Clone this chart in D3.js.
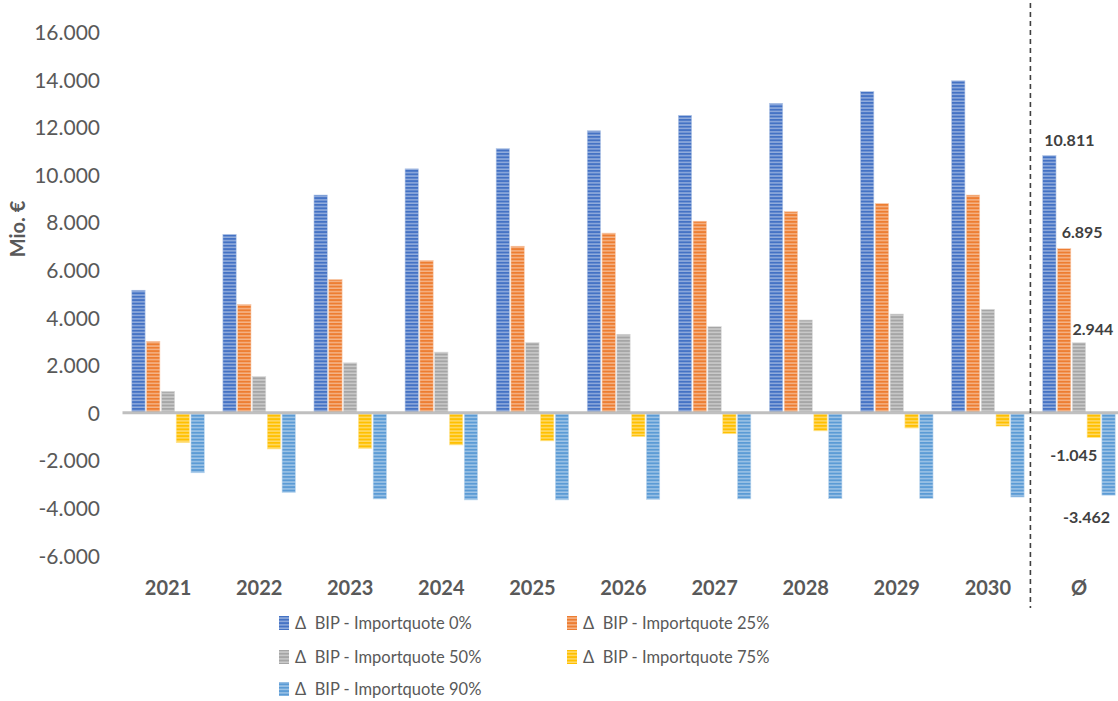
<!DOCTYPE html>
<html>
<head>
<meta charset="utf-8">
<script src="https://cdn.jsdelivr.net/npm/d3@7"></script>
<style>
  html, body { margin: 0; padding: 0; background: #fff; }
  svg { display: block; }
  text { font-family: Lato, "Open Sans", sans-serif; }
</style>
</head>
<body>
<svg id="chart" width="1118" height="701"></svg>
<script>
// ---- data ----
const categories = ["2021","2022","2023","2024","2025","2026","2027","2028","2029","2030","Ø"];
const seriesNames = [
  "Δ  BIP - Importquote 0%",
  "Δ  BIP - Importquote 25%",
  "Δ  BIP - Importquote 50%",
  "Δ  BIP - Importquote 75%",
  "Δ  BIP - Importquote 90%"
];
const imp0  = [5150, 7500, 9150, 10250, 11100, 11850, 12500, 13000, 13500, 13950, 10811];
const imp25 = [3000, 4550, 5600, 6400, 7000, 7550, 8050, 8450, 8800, 9150, 6895];
const imp50 = [900, 1525, 2100, 2550, 2950, 3300, 3620, 3900, 4150, 4350, 2944];
const imp75 = [-1250, -1520, -1500, -1350, -1180, -1000, -880, -760, -640, -560, -1045];
const imp90 = [-2520, -3350, -3620, -3660, -3660, -3640, -3620, -3610, -3600, -3540, -3462];
const yTicks = [-6000,-4000,-2000,0,2000,4000,6000,8000,10000,12000,14000,16000];
const colors = ["#4472C4", "#ED7D31", "#A5A5A5", "#FFC000", "#5B9BD5"];
const allSeries = [imp0, imp25, imp50, imp75, imp90];

// ---- setup ----
const svg = d3.select("#chart");
const fmt = v => d3.format(",")(v).replace(/,/g, ".").replace(/\u2212/g, "-");

const x0 = d3.scaleBand().domain(categories).range([122.5, 1124.5]).padding(0);
const groupW = 72.5;
const x1 = d3.scaleBand().domain(d3.range(5)).range([0, groupW]).paddingInner(0.1);
const y = d3.scaleLinear().domain([-6000, 16000]).range([555.6, 32]);

// patterns
const defs = svg.append("defs");
colors.forEach((c, i) => {
  const light = d3.interpolateRgb(c, "#ffffff")(0.42);
  const p = defs.append("pattern").attr("id", "pat" + i)
    .attr("patternUnits", "userSpaceOnUse").attr("width", 6).attr("height", 3.4);
  p.append("rect").attr("width", 6).attr("height", 3.4).attr("fill", light);
  p.append("rect").attr("width", 6).attr("height", 1.9).attr("fill", c);
});

// y axis labels
const yAxis = d3.axisLeft(y).tickValues(yTicks).tickSize(0).tickPadding(0).tickFormat(fmt);
const gy = svg.append("g").attr("transform", "translate(100,0)").call(yAxis);
gy.select(".domain").remove();
gy.selectAll("text").attr("fill", "#595959").style("font-size", "21px")
  .style("font-family", "Lato, sans-serif").attr("dy", "0.36em");

// y title
svg.append("text").attr("transform", "translate(25,229) rotate(-90)")
  .attr("text-anchor", "middle").attr("fill", "#595959")
  .style("font-size", "20px").style("font-weight", "bold").text("Mio. €");

// bars
const barData = [];
categories.forEach((cat, ci) => {
  allSeries.forEach((s, si) => barData.push({cat, si, v: s[ci]}));
});
const groupOffset = (x0.bandwidth() - (x1.step() * 4 + x1.bandwidth())) / 2;
svg.append("g").selectAll("rect").data(barData).join("rect")
  .attr("x", d => x0(d.cat) + groupOffset + x1(d.si))
  .attr("width", x1.bandwidth())
  .attr("y", d => y(Math.max(0, d.v)))
  .attr("height", d => Math.abs(y(d.v) - y(0)))
  .attr("fill", d => `url(#pat${d.si})`)
  .attr("stroke", d => d3.interpolateRgb(colors[d.si], "#ffffff")(0.6))
  .attr("stroke-width", 0.6);

// zero line
svg.append("line").attr("x1", 122.5).attr("x2", 1118)
  .attr("y1", y(0)).attr("y2", y(0))
  .attr("stroke", "#BFBFBF").attr("stroke-width", 3);

// x axis labels
const xAxis = d3.axisBottom(x0).tickSize(0).tickPadding(0);
const gx = svg.append("g").attr("transform", "translate(0,588)").call(xAxis);
gx.select(".domain").remove();
gx.selectAll("text").attr("fill", "#595959").attr("dy", "0.36em")
  .style("font-size", "20px").style("font-weight", "bold")
  .style("font-family", "Lato, sans-serif");

// dashed separator
const sepX = x0("Ø") - 3;
svg.append("line").attr("x1", sepX).attr("x2", sepX).attr("y1", 3).attr("y2", 608)
  .attr("stroke", "#404040").attr("stroke-width", 1.6).attr("stroke-dasharray", "5,4");

// data labels for Ø
const ci = categories.length - 1;
const labelDx = [20, 18, 14, -20, -22];
const labelDy = [-15, -16, -13, 18, 22];
allSeries.forEach((s, si) => {
  const v = s[ci];
  const cx = x0("Ø") + groupOffset + x1(si) + x1.bandwidth() / 2 + labelDx[si];
  const yy = y(v) + labelDy[si];
  svg.append("text").attr("x", cx).attr("y", yy).attr("dy", "0.36em")
    .attr("text-anchor", "middle").attr("fill", "#404040")
    .style("font-size", "16px").style("font-weight", "bold").text(fmt(v));
});

// legend
const legendPos = [[279, 623], [567, 623], [279, 657], [567, 657], [279, 689]];
seriesNames.forEach((name, i) => {
  const [lx, ly] = legendPos[i];
  svg.append("rect").attr("x", lx).attr("y", ly - 7).attr("width", 10).attr("height", 14)
    .attr("fill", `url(#pat${i})`);
  svg.append("text").attr("x", lx + 16).attr("y", ly).attr("dy", "0.36em")
    .attr("fill", "#595959").style("font-size", "16.5px").style("white-space", "pre")
    .text(name);
});
</script>
</body>
</html>
